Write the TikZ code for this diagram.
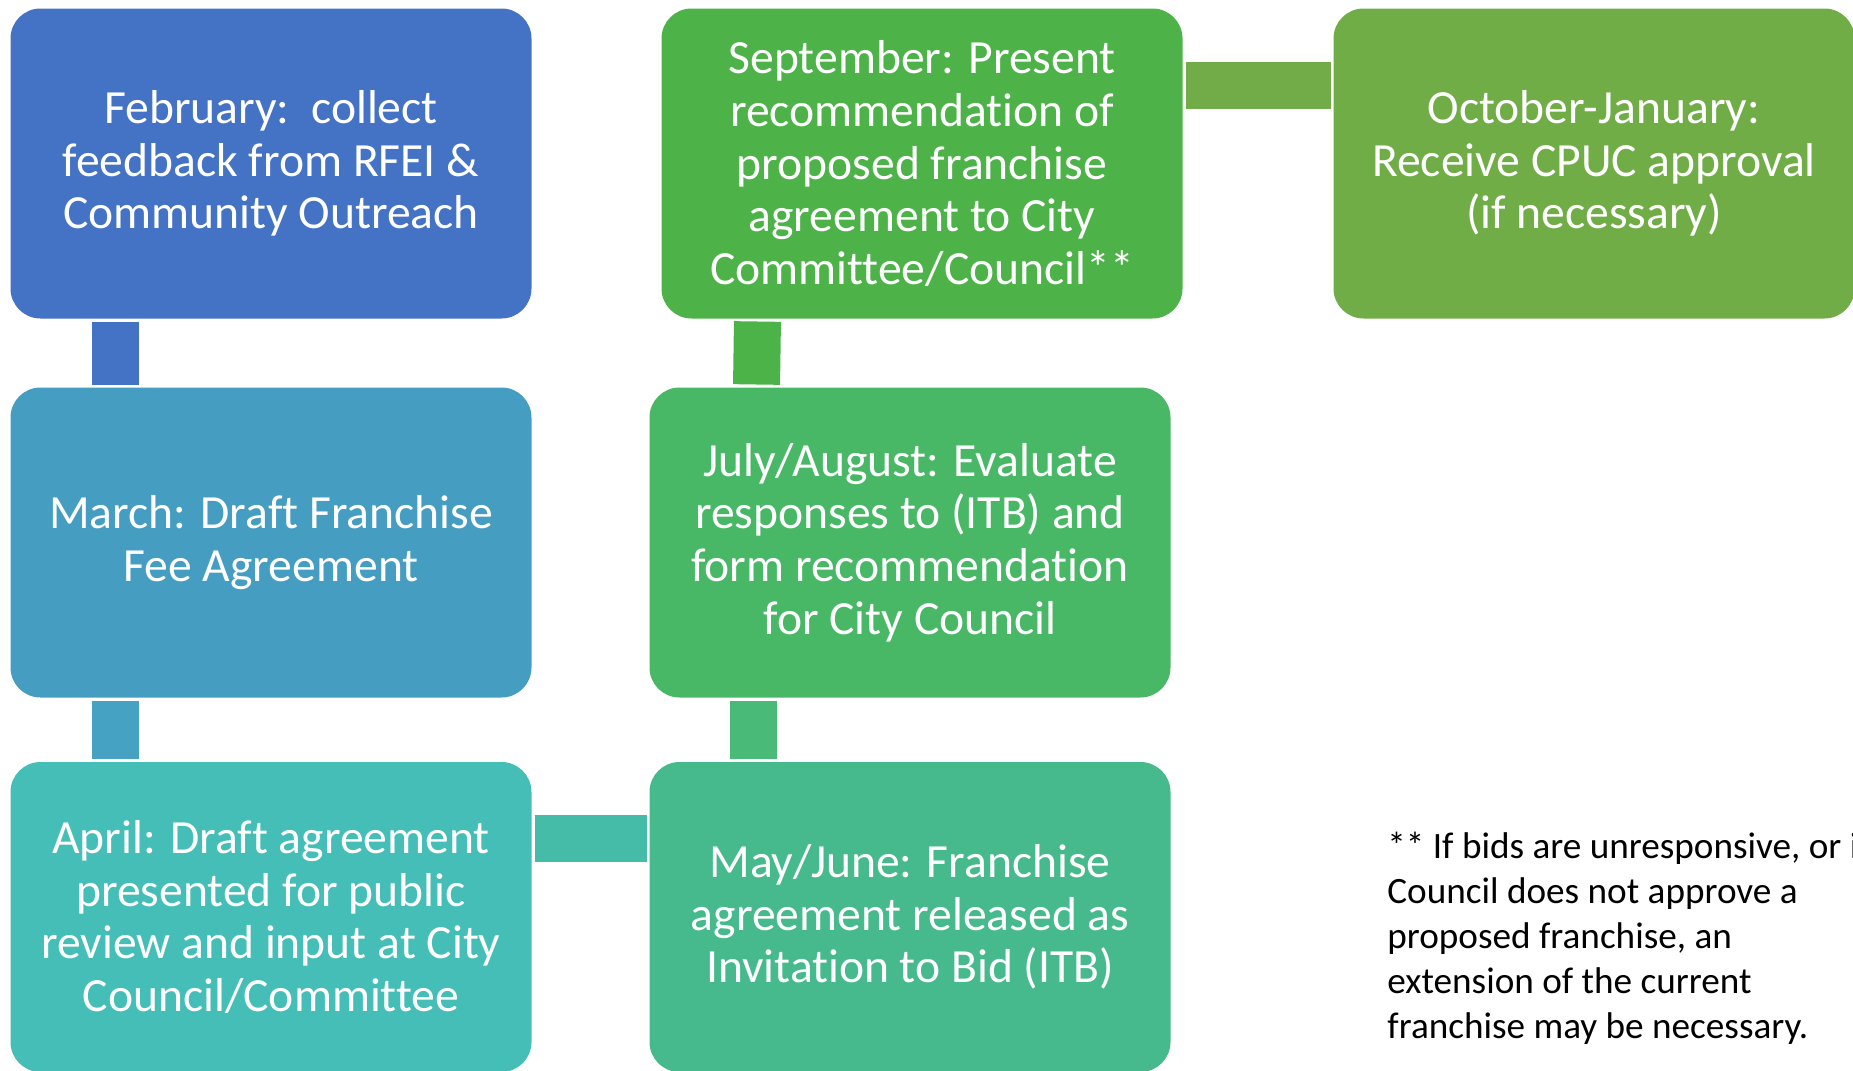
\documentclass[tikz,border=0pt]{standalone}
\usepackage{fontspec}
\setmainfont[RawFeature={-liga;-clig;-dlig;-calt}]{Carlito}
\usetikzlibrary{calc}
\definecolor{febcol}{HTML}{4472C4}
\definecolor{marcol}{HTML}{459DC2}
\definecolor{aprcol}{HTML}{45BEB8}
\definecolor{maycol}{HTML}{46BA8D}
\definecolor{julcol}{HTML}{49B866}
\definecolor{sepcol}{HTML}{4DB348}
\definecolor{octcol}{HTML}{70AD47}
\definecolor{barA}{HTML}{4472C4}
\definecolor{barB}{HTML}{46A2C2}
\definecolor{barC}{HTML}{45BCA8}
\definecolor{barD}{HTML}{4ABA78}
\definecolor{barE}{HTML}{4BB347}
\definecolor{barF}{HTML}{72AC48}
\tikzset{
	monthbox/.style={fill=#1, draw=none, rounded corners=15pt, minimum width=260.5pt, minimum height=155pt,
		inner sep=0pt, outer sep=0pt, text=white, align=center, font=\fontsize{23.8pt}{26.3pt}\selectfont},
	linkbar/.style={draw=#1, line width=23.5pt, shorten <=1.5pt, shorten >=1.5pt}
}

\begin{document}
\begin{tikzpicture}[x=0.5pt, y=-0.5pt]
				\useasboundingbox (0,0) rectangle (1853,1071);
				
				\node[monthbox=febcol] (feb) at (271,163.5) {February:\ \ collect\\feedback from RFEI \&\\Community Outreach};
				\node[monthbox=marcol] (mar) at (271,542.5) {March: Draft Franchise\\Fee Agreement};
				\node[monthbox=aprcol] (apr) at (271,917) {April: Draft agreement\\presented for public\\review and input at City\\Council/Committee};
				\node[monthbox=maycol] (may) at (910,917) {May/June: Franchise\\agreement released as\\Invitation to Bid (ITB)};
				\node[monthbox=julcol] (jul) at (910,542.5) {July/August: Evaluate\\responses to (ITB) and\\form recommendation\\for City Council};
				\node[monthbox=sepcol] (sep) at (922,163.5) {September: Present\\recommendation of\\proposed franchise\\agreement to City\\Committee/Council**};
				\node[monthbox=octcol] (oct) at (1594,163.5) {October-January:\\Receive CPUC approval\\(if necessary)};
				
				\draw[linkbar=barA] ([xshift=52.25pt]feb.south west) -- ([xshift=52.25pt]mar.north west);
				\draw[linkbar=barB] ([xshift=52.25pt]mar.south west) -- ([xshift=52.25pt]apr.north west);
				\draw[linkbar=barC] ([yshift=-38pt]apr.north east) -- ([yshift=-38pt]may.north west);
				\draw[linkbar=barD] ([xshift=52pt]may.north west) -- ([xshift=52pt]jul.south west);
				\draw[linkbar=barE] ([xshift=53.5pt]jul.north west) -- ([xshift=48pt]sep.south west);
				\draw[linkbar=barF] ([yshift=-38.25pt]sep.north east) -- ([yshift=-38.25pt]oct.north west);
				
				\node[anchor=base west, align=left, inner sep=0pt, font=\fontsize{18.6pt}{22.5pt}\selectfont] (note) at (1387,1038)
					{** If bids are unresponsive, or i\\Council does not approve a\\proposed franchise, an\\extension of the current\\franchise may be necessary.};
\end{tikzpicture}
\end{document}
